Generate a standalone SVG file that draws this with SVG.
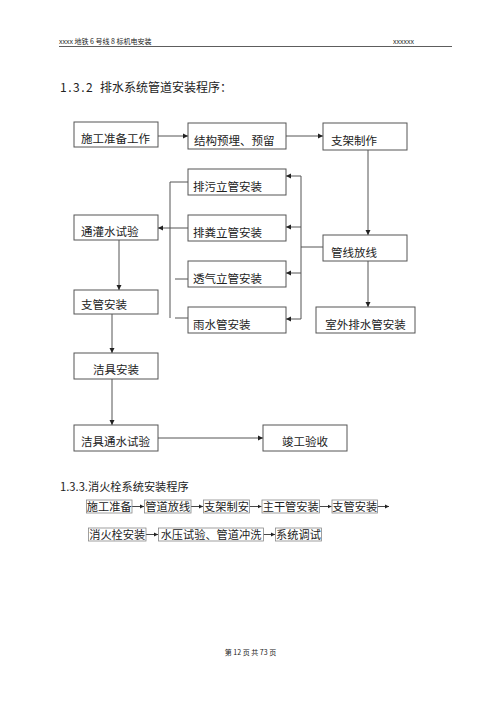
<svg xmlns="http://www.w3.org/2000/svg" width="499" height="706" viewBox="0 0 499 706">
<defs>
<marker id="ah" markerUnits="userSpaceOnUse" markerWidth="6" markerHeight="6" refX="5" refY="3" orient="auto"><path d="M0,0.5 L5,3 L0,5.5 Z" fill="#222"/></marker>
<marker id="ahs" markerUnits="userSpaceOnUse" markerWidth="5" markerHeight="5" refX="4" refY="2.5" orient="auto"><path d="M0,0.5 L4,2.5 L0,4.5 Z" fill="#222"/></marker>
<style>
.t{font-family:"Noto Sans CJK SC","Liberation Serif",serif;fill:#222}
.b{fill:#fff;stroke:#555;stroke-width:1}
.bs{fill:#fff;stroke:#888;stroke-width:0.8}
.c{fill:none;stroke:#555;stroke-width:1}
.a{fill:none;stroke:#555;stroke-width:1;marker-end:url(#ah)}
.as{fill:none;stroke:#333;stroke-width:0.9;marker-end:url(#ahs)}
.n{font-size:11.5px}
.m{font-size:11.2px}
</style>
</defs>
<rect width="499" height="706" fill="#fff"/>
<g id="header">
<text class="t" x="59" y="44" font-size="7">xxxx 地铁 6 号线 8 标机电安装</text>
<text class="t" x="393" y="44" font-size="7">xxxxxx</text>
<line x1="59" y1="46.5" x2="452" y2="46.5" stroke="#333" stroke-width="0.8"/>
</g>
<g id="title1">
<text class="t" x="60" y="92" font-size="12" font-family="Liberation Serif" letter-spacing="1.5">1.3.2</text>
<text class="t" x="100" y="92" font-size="12">排水系统管道安装程序：</text>
</g>
<g id="connectors">
<line class="a" x1="158" y1="136" x2="188" y2="136"/>
<line class="a" x1="286" y1="136" x2="323" y2="136"/>
<line class="a" x1="368" y1="150" x2="368" y2="235"/>
<line class="a" x1="368" y1="261" x2="368" y2="307"/>
<line class="c" x1="323" y1="247" x2="301" y2="247"/>
<line class="c" x1="301" y1="176" x2="301" y2="319"/>
<line class="a" x1="301" y1="176" x2="286" y2="176"/>
<line class="a" x1="301" y1="227" x2="286" y2="227"/>
<line class="a" x1="301" y1="273" x2="286" y2="273"/>
<line class="a" x1="301" y1="319" x2="286" y2="319"/>
<line class="c" x1="170" y1="182" x2="170" y2="318"/>
<line class="c" x1="170" y1="182" x2="188" y2="182"/>
<line class="c" x1="170" y1="228" x2="188" y2="228"/>
<line class="c" x1="175" y1="279" x2="188" y2="279"/>
<line class="c" x1="175" y1="318" x2="188" y2="318"/>
<line class="a" x1="170" y1="228" x2="158" y2="228"/>
<line class="a" x1="119" y1="240" x2="119" y2="290"/>
<line class="a" x1="112" y1="314" x2="112" y2="353"/>
<line class="a" x1="112" y1="379" x2="112" y2="425"/>
<line class="a" x1="158" y1="438" x2="263" y2="438"/>
<line class="as" x1="132" y1="506.5" x2="144" y2="506.5"/>
<line class="as" x1="191" y1="506.5" x2="203" y2="506.5"/>
<line class="as" x1="249.5" y1="506.5" x2="261.5" y2="506.5"/>
<line class="as" x1="319.5" y1="506.5" x2="331.5" y2="506.5"/>
<line class="as" x1="377.5" y1="506.5" x2="389" y2="506.5"/>
<line class="as" x1="146" y1="534.5" x2="158" y2="534.5"/>
<line class="as" x1="263.5" y1="534.5" x2="275" y2="534.5"/>
</g>
<g id="n1"><rect class="b" x="74" y="122" width="84" height="25"/><text class="t n" x="81" y="143">施工准备工作</text></g>
<g id="n2"><rect class="b" x="188" y="123" width="98" height="26"/><text class="t n" x="194" y="145">结构预埋、预留</text></g>
<g id="n3"><rect class="b" x="323" y="123" width="84" height="27"/><text class="t n" x="331" y="145">支架制作</text></g>
<g id="n4"><rect class="b" x="188" y="169" width="98" height="26"/><text class="t n" x="193" y="191">排污立管安装</text></g>
<g id="n5"><rect class="b" x="188" y="215" width="98" height="26"/><text class="t n" x="193" y="237">排粪立管安装</text></g>
<g id="n6"><rect class="b" x="74" y="215" width="84" height="25"/><text class="t n" x="81" y="236">通灌水试验</text></g>
<g id="n7"><rect class="b" x="188" y="261" width="98" height="26"/><text class="t n" x="193" y="283">透气立管安装</text></g>
<g id="n8"><rect class="b" x="323" y="235" width="84" height="26"/><text class="t n" x="331" y="257">管线放线</text></g>
<g id="n9"><rect class="b" x="74" y="290" width="84" height="24"/><text class="t n" x="81" y="309">支管安装</text></g>
<g id="n10"><rect class="b" x="188" y="307" width="98" height="26"/><text class="t n" x="193" y="329">雨水管安装</text></g>
<g id="n11"><rect class="b" x="316" y="307" width="99" height="26"/><text class="t n" x="365.5" y="329" text-anchor="middle">室外排水管安装</text></g>
<g id="n12"><rect class="b" x="74" y="353" width="84" height="26"/><text class="t n" x="116" y="374" text-anchor="middle">洁具安装</text></g>
<g id="n13"><rect class="b" x="74" y="425" width="84" height="26"/><text class="t n" x="81" y="446">洁具通水试验</text></g>
<g id="n14"><rect class="b" x="263" y="425" width="84" height="26"/><text class="t n" x="305" y="446" text-anchor="middle">竣工验收</text></g>
<g id="title2">
<text class="t" x="60" y="491" font-size="11.2">1.3.3.消火栓系统安装程序</text>
</g>
<g id="s1"><rect class="bs" x="86.5" y="500" width="45.5" height="13"/><text class="t m" x="109.2" y="511" text-anchor="middle">施工准备</text></g>
<g id="s2"><rect class="bs" x="144.5" y="500" width="46.5" height="13"/><text class="t m" x="167.7" y="511" text-anchor="middle">管道放线</text></g>
<g id="s3"><rect class="bs" x="203.5" y="500" width="46" height="13"/><text class="t m" x="226.5" y="511" text-anchor="middle">支架制安</text></g>
<g id="s4"><rect class="bs" x="262" y="500" width="57.5" height="13"/><text class="t m" x="290.7" y="511" text-anchor="middle">主干管安装</text></g>
<g id="s5"><rect class="bs" x="332" y="500" width="45.5" height="13"/><text class="t m" x="354.7" y="511" text-anchor="middle">支管安装</text></g>
<g id="s6"><rect class="bs" x="88.5" y="528" width="57.5" height="13"/><text class="t m" x="117.2" y="539" text-anchor="middle">消火栓安装</text></g>
<g id="s7"><rect class="bs" x="158.5" y="528" width="105" height="13"/><text class="t m" x="211" y="539" text-anchor="middle">水压试验、管道冲洗</text></g>
<g id="s8"><rect class="bs" x="275.5" y="528" width="46" height="13"/><text class="t m" x="298.5" y="539" text-anchor="middle">系统调试</text></g>
<g id="footer">
<text class="t" x="250.5" y="655" font-size="7" text-anchor="middle">第 12 页 共 73 页</text>
</g>
</svg>
